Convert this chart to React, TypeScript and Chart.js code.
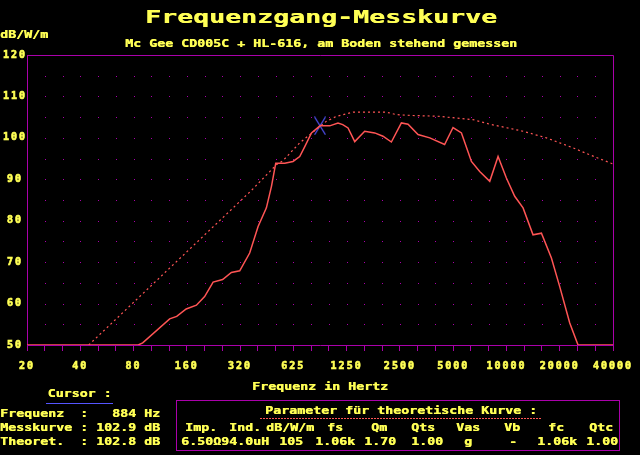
import React, { useEffect, useRef } from 'react';
import { Chart, registerables } from 'chart.js';

Chart.register(...registerables);

// ---------- data ----------
const X_MIN = 40000 / 2048; // axis runs 19.53 Hz .. 40 kHz (11 octaves)
const X_MAX = 40000;
const xTickLabels = ['20', '40', '80', '160', '320', '625', '1250', '2500', '5000', '10000', '20000', '40000'];
const yTickStep = 10;
const yMin = 50;
const yMax = 120;

// measured curve (Messkurve)
const measFreq = [
  19.53, 83, 88, 125, 137, 155, 177, 197, 220, 249, 279, 311, 354, 395, 440, 470, 497, 559, 622, 679,
  725, 791, 884, 1003, 1117, 1188, 1273, 1389, 1581, 1801, 2006, 2237, 2549, 2779, 3165, 3686, 4473,
  4990, 5567, 6338, 7061, 8047, 8965, 9990, 11133, 12412, 14131, 15762, 17949, 20000, 22783, 25381, 40000,
];
const measDb = [
  50, 50, 50.5, 56.3, 56.9, 58.7, 59.6, 61.7, 65.2, 65.8, 67.5, 67.9, 72.2, 78.6, 83.1, 88.3, 93.9, 93.9, 94.3, 95.5,
  97.9, 101.2, 102.9, 102.9, 103.6, 103.2, 102.4, 99.1, 101.6, 101.2, 100.4, 99.0, 103.6, 103.3, 100.8, 100.0, 98.4,
  102.5, 101.2, 94.3, 91.9, 89.5, 95.5, 90.3, 85.9, 83.1, 76.6, 77.0, 71.0, 64.1, 55.3, 50, 50,
];

// theoretical curve (theoretische Kurve)
const theoFreq = [
  43.6, 362, 501, 546, 679, 807, 961, 1095, 1358, 2098, 2390, 2930, 4195, 4580, 6475, 8047, 12412, 16816,
  23779, 29541, 40000,
];
const theoDb = [
  50, 87.3, 93.5, 94.5, 98.8, 101.4, 104.0, 105.2, 106.2, 106.2, 105.6, 105.4, 105.2, 105.0, 104.4, 103.3,
  101.6, 100.0, 97.6, 95.9, 93.7,
];

// cursor
const cursorFreq = 884;
const cursorMeas = 102.9;
const cursorTheo = 102.8;

// parameter table
const paramHeaders = ['Imp.', 'Ind.', 'dB/W/m', 'fs', 'Qm', 'Qts', 'Vas', 'Vb', 'fc', 'Qtc'];
const paramHeaderX = [185, 229, 266, 327, 371, 411, 456, 504, 548, 589];
const paramValues = ['6.50\u03A994.0uH', '105', '1.06k', '1.70', '1.00', 'g', '-', '1.06k', '1.00'];
const paramValueX = [181, 279, 315, 364, 411, 464, 509, 537, 586];

// ---------- style ----------
const YELLOW = '#FFFF55';
const MAG = '#AA00AA';
const RED = '#FF5555';
const BLUE = '#5555FF';
const FONT = '"DejaVu Sans Mono"';

const xTickValues = Array.from({ length: 34 }, (_, k) => X_MAX / Math.pow(2, (33 - k) / 3));
const gridDb = [55, 60, 65, 70, 75, 80, 85, 90, 95, 100, 105, 110, 115];

function txt(
  ctx: CanvasRenderingContext2D,
  s: string,
  x: number,
  y: number,
  size: number,
  pitch: number,
  color: string,
  align: CanvasTextAlign = 'left'
) {
  ctx.save();
  (ctx as any).letterSpacing = '0px';
  ctx.font = `bold ${size}px ${FONT}`;
  const adv = ctx.measureText('M').width;
  const sx = pitch / adv;
  ctx.translate(x, y);
  ctx.scale(sx, 1);
  ctx.fillStyle = color;
  ctx.textAlign = align;
  ctx.textBaseline = 'alphabetic';
  ctx.fillText(s, 0, 0);
  ctx.fillText(s, 0.5 / sx, 0);
  ctx.restore();
}

function makeCursorImage(): HTMLCanvasElement {
  const c = document.createElement('canvas');
  c.width = 12;
  c.height = 19;
  const g = c.getContext('2d')!;
  g.strokeStyle = BLUE;
  g.lineWidth = 1.2;
  g.beginPath();
  g.moveTo(0.5, 0.5);
  g.lineTo(11.5, 18.5);
  g.moveTo(11.5, 0.5);
  g.lineTo(0.5, 18.5);
  g.stroke();
  return c;
}

const decor = {
  id: 'decor',
  beforeDraw(chart: any) {
    const { ctx, width, height } = chart;
    ctx.save();
    ctx.fillStyle = '#000';
    ctx.fillRect(0, 0, width, height);
    ctx.restore();
    (ctx as any).letterSpacing = '2px';
  },
  beforeDatasetsDraw(chart: any) {
    const { ctx, chartArea: a, scales } = chart;
    const xs = scales.x;
    const ys = scales.y;
    ctx.save();
    ctx.fillStyle = MAG;
    for (let k = 1; k < xTickValues.length - 1; k++) {
      const px = Math.round(xs.getPixelForValue(xTickValues[k]));
      for (const d of gridDb) {
        const py = Math.round(ys.getPixelForValue(d));
        ctx.fillRect(px, py, 1, 1);
      }
    }
    ctx.strokeStyle = MAG;
    ctx.lineWidth = 1;
    ctx.beginPath();
    ctx.moveTo(a.left, Math.round(a.top) + 0.5);
    ctx.lineTo(Math.round(a.right) + 0.5, Math.round(a.top) + 0.5);
    ctx.lineTo(Math.round(a.right) + 0.5, a.bottom);
    ctx.stroke();
    ctx.restore();
  },
  afterDraw(chart: any) {
    const ctx: CanvasRenderingContext2D = chart.ctx;
    txt(ctx, 'Frequenzgang-Messkurve', 145, 23, 18, 16, YELLOW);
    txt(ctx, 'dB/W/m', 0, 37.5, 10, 8, YELLOW);
    txt(ctx, 'Mc Gee CD005C + HL-616, am Boden stehend gemessen', 125, 47, 10, 8, YELLOW);
    txt(ctx, 'Frequenz in Hertz', 252, 390, 10, 8, YELLOW);

    // cursor panel
    txt(ctx, 'Cursor :', 47.5, 397, 10, 8, YELLOW);
    ctx.save();
    ctx.fillStyle = BLUE;
    ctx.fillRect(46, 403, 67, 1);
    ctx.restore();
    txt(ctx, `Frequenz  :   ${cursorFreq} Hz`, 0, 417, 10, 8, YELLOW);
    txt(ctx, `Messkurve : ${cursorMeas.toFixed(1)} dB`, 0, 431, 10, 8, YELLOW);
    txt(ctx, `Theoret.  : ${cursorTheo.toFixed(1)} dB`, 0, 445, 10, 8, YELLOW);

    // parameter box
    ctx.save();
    ctx.strokeStyle = MAG;
    ctx.lineWidth = 1;
    ctx.strokeRect(176.5, 400.5, 443, 50);
    ctx.strokeStyle = RED;
    ctx.setLineDash([2, 1]);
    ctx.beginPath();
    ctx.moveTo(260, 418.5);
    ctx.lineTo(542, 418.5);
    ctx.stroke();
    ctx.restore();
    txt(ctx, 'Parameter f\u00FCr theoretische Kurve :', 265, 414, 10, 8, YELLOW);
    paramHeaders.forEach((h, i) => txt(ctx, h, paramHeaderX[i], 431, 10, 8, YELLOW));
    paramValues.forEach((v, i) => txt(ctx, v, paramValueX[i], 445, 10, 8, YELLOW));
    (ctx as any).letterSpacing = '0px';
  },
};

export default function App() {
  const ref = useRef<HTMLCanvasElement>(null);
  useEffect(() => {
    document.body.style.margin = '0';
    document.body.style.background = '#000';
    const tickFont = { family: FONT, size: 10, weight: 'bold' as const };
    const chart = new Chart(ref.current!, {
      type: 'line',
      data: {
        datasets: [
          {
            label: 'Theoretische Kurve',
            data: theoFreq.map((f, i) => ({ x: f, y: theoDb[i] })),
            borderColor: RED,
            borderWidth: 1.2,
            borderDash: [2, 3],
            pointRadius: 0,
            fill: false,
            tension: 0,
          },
          {
            label: 'Messkurve',
            data: measFreq.map((f, i) => ({ x: f, y: measDb[i] })),
            borderColor: RED,
            borderWidth: 1.5,
            pointRadius: 0,
            fill: false,
            tension: 0,
          },
          {
            type: 'scatter',
            label: 'Cursor',
            data: [{ x: cursorFreq, y: cursorMeas }],
            pointStyle: makeCursorImage() as any,
            pointRadius: 5,
            borderColor: BLUE,
            backgroundColor: BLUE,
          } as any,
        ],
      },
      options: {
        responsive: false,
        animation: false,
        devicePixelRatio: 1,
        events: [],
        layout: { padding: { top: 55, right: 27, left: 0, bottom: 0 } },
        plugins: {
          legend: { display: false },
          tooltip: { enabled: false },
          title: { display: false },
        },
        scales: {
          x: {
            type: 'logarithmic',
            min: X_MIN,
            max: X_MAX,
            afterBuildTicks: (s: any) => {
              s.ticks = xTickValues.map((v) => ({ value: v }));
            },
            afterFit: (s: any) => {
              s.height = 110;
            },
            ticks: {
              autoSkip: false,
              maxRotation: 0,
              minRotation: 0,
              padding: 9,
              color: YELLOW,
              font: tickFont,
              textStrokeColor: YELLOW,
              textStrokeWidth: 0.6,
              callback: (_v: any, i: number) => (i % 3 === 0 ? xTickLabels[i / 3] : ''),
            },
            grid: { drawOnChartArea: false, drawTicks: true, tickLength: 6, color: MAG, lineWidth: 1 },
            border: { display: true, color: MAG, width: 1 },
          },
          y: {
            type: 'linear',
            min: yMin,
            max: yMax,
            afterFit: (s: any) => {
              s.width = 27;
            },
            ticks: {
              stepSize: yTickStep,
              color: YELLOW,
              font: tickFont,
              textStrokeColor: YELLOW,
              textStrokeWidth: 0.6,
              padding: 3,
              crossAlign: 'center',
            },
            grid: { display: false, drawTicks: false },
            border: { display: true, color: MAG, width: 1 },
          },
        },
      } as any,
      plugins: [decor],
    });
    return () => chart.destroy();
  }, []);
  return (
    <div style={{ position: 'fixed', left: 0, top: 0, width: 640, height: 455, background: '#000' }}>
      <canvas ref={ref} width={640} height={455} style={{ display: 'block', width: '640px', height: '455px' }} />
    </div>
  );
}
